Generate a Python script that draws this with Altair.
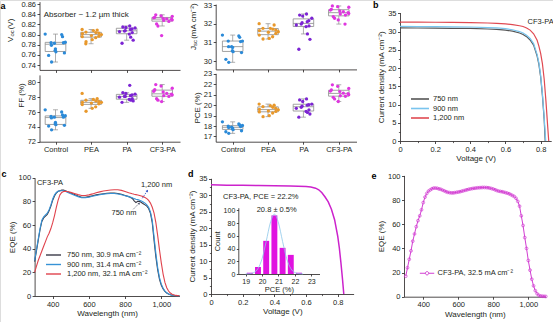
import altair as alt
import pandas as pd

W, H = 553, 322
FONT = "Liberation Sans"
INK = "#231f20"
BOX = "#8c8c8c"

# ---------------- data: panel a ----------------
groups = ["Control", "PEA", "PA", "CF3-PA"]
group_colors = ["#2b8ad8", "#e8982b", "#7c24d3", "#df36df"]

voc_control = [0.801, 0.800, 0.796, 0.785, 0.784, 0.784, 0.783, 0.779, 0.772, 0.769, 0.766, 0.764, 0.759, 0.746]
voc_pea = [0.810, 0.809, 0.808, 0.805, 0.804, 0.803, 0.802, 0.800, 0.798, 0.797, 0.796, 0.794, 0.790, 0.786, 0.782]
voc_pa = [0.817, 0.815, 0.814, 0.813, 0.811, 0.810, 0.808, 0.807, 0.806, 0.804, 0.801, 0.795, 0.789, 0.783]
voc_cf3 = [0.839, 0.837, 0.836, 0.834, 0.833, 0.832, 0.831, 0.830, 0.829, 0.828, 0.826, 0.821, 0.817, 0.798]

jsc_control = [31.39, 31.34, 31.27, 31.07, 31.07, 31.04, 30.77, 30.77, 30.73, 30.55, 30.50, 30.45, 30.09, 29.93]
jsc_pea = [32.00, 31.93, 31.75, 31.75, 31.71, 31.66, 31.63, 31.57, 31.54, 31.48, 31.39, 31.30, 31.21, 31.18]
jsc_pa = [32.52, 32.46, 32.41, 32.29, 32.16, 32.11, 32.05, 31.98, 31.93, 31.88, 31.84, 31.45, 31.16, 30.63]
jsc_cf3 = [32.95, 32.91, 32.88, 32.77, 32.73, 32.68, 32.64, 32.59, 32.55, 32.52, 32.46, 32.38, 32.29, 32.20, 31.98]

ff_control = [76.3, 76.0, 75.6, 75.5, 75.4, 75.3, 75.3, 75.2, 74.6, 74.4, 74.3, 74.2, 74.1, 73.6]
ff_pea = [78.5, 77.8, 77.7, 77.6, 77.5, 77.4, 77.3, 77.3, 77.2, 77.1, 77.0, 76.7, 76.5, 76.1]
ff_pa = [79.6, 78.6, 78.5, 78.4, 78.3, 78.2, 78.1, 78.1, 78.0, 77.8, 77.7, 77.6, 77.5, 77.3]
ff_cf3 = [79.7, 79.5, 79.2, 79.0, 78.8, 78.7, 78.5, 78.4, 78.3, 78.2, 78.1, 77.8, 77.6, 77.4]

pce_control = [18.4, 18.2, 18.1, 18.05, 18.0, 17.95, 17.9, 17.85, 17.8, 17.75, 17.65, 17.55, 17.45, 17.3]
pce_pea = [20.1, 20.0, 19.95, 19.85, 19.8, 19.7, 19.6, 19.55, 19.45, 19.4, 19.35, 19.25, 19.0, 18.9]
pce_pa = [20.6, 20.5, 20.35, 20.1, 20.05, 20.0, 19.9, 19.8, 19.7, 19.55, 19.4, 19.3, 19.15, 18.85]
pce_cf3 = [21.95, 21.8, 21.6, 21.45, 21.35, 21.3, 21.15, 21.1, 21.0, 20.9, 20.85, 20.75, 20.6, 20.35]

# ---------------- data: panel b (J-V, three thicknesses) ----------------
thick_b = ["750 nm", "900 nm", "1,200 nm"]
colors_b = ["#555555", "#79c4ee", "#e04a52"]
v_750 = [0, 0.1, 0.2, 0.3, 0.4, 0.5, 0.55, 0.6, 0.64, 0.68, 0.7, 0.72, 0.74, 0.76, 0.78, 0.79, 0.80, 0.81, 0.82, 0.826]
j_750 = [31.0, 30.98, 30.95, 30.9, 30.85, 30.7, 30.6, 30.4, 30.1, 29.6, 29.2, 28.6, 27.7, 26.3, 23.3, 21.0, 17.6, 12.5, 6.0, 0.0]
v_900 = [0, 0.1, 0.2, 0.3, 0.4, 0.5, 0.55, 0.6, 0.64, 0.68, 0.7, 0.72, 0.74, 0.76, 0.78, 0.79, 0.80, 0.81, 0.82, 0.826, 0.829]
j_900 = [31.4, 31.38, 31.35, 31.3, 31.25, 31.1, 31.0, 30.8, 30.5, 30.0, 29.6, 29.0, 28.1, 26.7, 23.7, 21.4, 18.0, 13.0, 6.5, 2.0, 0.0]
v_1200 = [0, 0.1, 0.2, 0.3, 0.4, 0.5, 0.55, 0.6, 0.64, 0.68, 0.7, 0.72, 0.74, 0.76, 0.78, 0.79, 0.80, 0.81, 0.82, 0.83, 0.84, 0.846]
j_1200 = [32.6, 32.58, 32.55, 32.5, 32.45, 32.35, 32.25, 32.1, 31.9, 31.6, 31.4, 31.0, 30.4, 29.4, 27.6, 26.0, 24.0, 21.2, 17.0, 11.0, 4.0, 0.0]

# ---------------- data: panel c (EQE, three thicknesses) ----------------
labels_c = ["750 nm, 30.9 mA cm\u207b\u00b2", "900 nm, 31.4 mA cm\u207b\u00b2", "1,200 nm, 32.1 mA cm\u207b\u00b2"]
colors_c = ["#3a3a48", "#3792d6", "#e0434d"]
wl_c = [300, 310, 320, 330, 340, 350, 360, 370, 380, 390, 400, 410, 420, 430, 440, 450, 460, 470, 480,
        500, 520, 540, 560, 580, 600, 620, 640, 660, 680, 700, 720, 740, 760, 780, 800, 820, 840,
        850, 860, 870, 880, 890, 900, 910, 920, 930, 940, 950, 960, 970, 980, 990, 1000, 1010, 1020,
        1030, 1040, 1050, 1060, 1080, 1100]
eqe_750 = [29, 38, 47, 56, 63, 66, 67.5, 69, 72, 76, 81, 84.5, 87, 88.5, 89, 89.5, 89.5, 89, 88.3,
           87, 85.8, 84.5, 83.5, 83.5, 84, 84.8, 85.5, 86, 86.5, 86.8, 87, 87, 86.6, 86, 85, 84, 82.5,
           80.5, 79, 80, 80, 79, 78, 77, 76, 74, 70, 62, 47, 33, 22, 14, 9, 6, 4,
           2.5, 1.6, 1.0, 0.6, 0.3, 0.2]
eqe_900 = [30, 39, 48, 57, 64, 67, 68.5, 70, 73, 77, 82, 85.5, 87.5, 88.5, 89, 89, 89, 88.5, 87.8,
           86.5, 85.2, 84, 83, 83, 83.5, 84.3, 85, 85.6, 86.1, 86.4, 86.6, 86.6, 86.2, 85.6, 84.8, 84, 83,
           82.3, 81.8, 81.5, 81, 80.3, 79.5, 78.5, 77, 75, 71, 64, 50, 36, 24, 15.5, 10, 6.5, 4.2,
           2.7, 1.7, 1.1, 0.7, 0.3, 0.2]
eqe_1200 = [20, 25, 30, 34, 38, 42, 46, 50, 53, 57, 62, 68, 75, 81, 85.5, 87.5, 88.3, 88.5, 88.3,
            87.6, 86.7, 85.7, 85, 85, 85.5, 86.3, 87.2, 88, 88.7, 89.2, 89.6, 89.8, 89.8, 89.3, 88.3, 87.3, 86.4,
            86, 85.7, 85.4, 85, 84.5, 84, 83.3, 82.3, 80.8, 78.5, 75, 70, 62, 51, 39, 28, 18.5, 11.5,
            7, 4.2, 2.5, 1.5, 0.5, 0.2]

# ---------------- data: panel d (champion J-V + histogram) ----------------
v_d = [0, 0.1, 0.2, 0.3, 0.4, 0.5, 0.55, 0.6, 0.63, 0.66, 0.68, 0.7, 0.72, 0.74, 0.76, 0.78, 0.8, 0.81, 0.82, 0.83, 0.838]
j_d = [33.2, 33.1, 33.05, 33.0, 32.95, 32.85, 32.8, 32.7, 32.55, 32.2, 31.7, 30.8, 29.5, 28.0, 25.8, 22.6, 17.5, 14.0, 9.5, 4.5, 0.0]
hist_centers = [19.25, 19.75, 20.25, 20.75, 21.25, 21.75, 22.25]
hist_counts = [2, 11, 52, 92, 41, 30, 2]
fit_pce = [19.0, 19.25, 19.5, 19.75, 20.0, 20.25, 20.5, 20.75, 21.0, 21.25, 21.5, 21.75, 22.0, 22.25, 22.5]
fit_count = [0.1, 0.5, 2.3, 8.6, 24, 51, 80, 94, 80, 51, 24, 8.6, 2.3, 0.5, 0.1]

# ---------------- data: panel e (EQE of champion) ----------------
wl_e = list(range(300, 1101, 10))
eqe_e = [17, 24, 31, 38, 46, 52, 58, 63, 67, 72, 78, 82.5, 85.5, 87.5, 88.5, 89.5, 90, 90, 89.8, 89.3,
         89, 88.3, 87.7, 87, 86.5, 86.2, 86, 86, 86.2, 86.5, 86.7, 87, 87.4, 87.8, 88.2, 88.6, 89, 89.3,
         89.6, 89.8, 90, 90.2, 90.3, 90.4, 90.5, 90.5, 90.4, 90.3, 90, 89.6, 89.2, 88.6, 88, 87.5, 87.2,
         87, 86.6, 86.2, 85.8, 85.3, 84.6, 83.8, 83, 81.5, 79, 75, 67, 59, 49, 40, 30, 22, 14.5, 9,
         5, 2.5, 1.2, 0.6, 0.4, 0.3, 0.2]


# ---------------- helpers ----------------
def ax_left(xpos, values, fmt, title, **kw):
    d = dict(orient="left", offset=-xpos, values=values, title=title, grid=False,
             tickSize=2.5, tickWidth=0.8, domainWidth=0.8, labelPadding=1.5, titlePadding=2,
             labelFontSize=7.5, titleFontSize=8, titleFontWeight="normal",
             labelColor=INK, titleColor=INK, domainColor=INK, tickColor=INK,
             labelFont=FONT, titleFont=FONT, labelOverlap=False)
    if fmt:
        d["format"] = fmt
    d.update(kw)
    return alt.Axis(**d)


def ax_bottom(ypos, values, fmt, title, **kw):
    d = dict(orient="bottom", offset=ypos - H, values=values, title=title, grid=False,
             tickSize=2.5, tickWidth=0.8, domainWidth=0.8, labelPadding=1.5, titlePadding=2,
             labelFontSize=7.5, titleFontSize=8, titleFontWeight="normal",
             labelColor=INK, titleColor=INK, domainColor=INK, tickColor=INK,
             labelFont=FONT, titleFont=FONT, labelOverlap=False, labelFlush=False)
    if fmt:
        d["format"] = fmt
    d.update(kw)
    return alt.Axis(**d)


def lin(domain, rng):
    return alt.Scale(domain=list(domain), range=list(rng), nice=False, zero=False)


def minor_ticks(xs, ys, xdom0, ydom0, xaxis_y, yaxis_x, xvals, yvals):
    common = dict(grid=False, labels=False, domain=False, title=None, tickSize=1.6,
                  tickWidth=0.7, tickColor=INK)
    return alt.Chart(pd.DataFrame({"x": [xdom0], "y": [ydom0]})).mark_point(opacity=0).encode(
        x=alt.X("x:Q", scale=xs, axis=alt.Axis(orient="bottom", offset=xaxis_y - H, values=xvals, **common)),
        y=alt.Y("y:Q", scale=ys, axis=alt.Axis(orient="left", offset=-yaxis_x, values=yvals, **common)))


def box_panel(vals, xdom, xrng, ydom, yrng, xaxis_y, yaxis_x, yvalues, yfmt, ytitle, show_labels,
              extra=None, title_y=None):
    rows = [{"grp": g, "gi": gi, "k": k, "v": v}
            for gi, g in enumerate(groups) for k, v in enumerate(vals[gi])]
    df = pd.DataFrame(rows)
    xs = lin(xdom, xrng)
    ys = lin(ydom, yrng)
    xax = ax_bottom(xaxis_y, [0, 1, 2, 3], None, None, labels=show_labels,
                    labelExpr="['Control','PEA','PA','CF3-PA'][datum.value]")
    ykw = {}
    if title_y is not None:
        ykw["titleY"] = title_y
    yax = ax_left(yaxis_x, yvalues, yfmt, ytitle, **ykw)
    base = alt.Chart(df)
    stats = (base.transform_joinaggregate(q1="q1(v)", q3="q3(v)", med="median(v)", groupby=["gi"])
             .transform_calculate(lo="datum.q1 - 1.5*(datum.q3-datum.q1)",
                                  hi="datum.q3 + 1.5*(datum.q3-datum.q1)")
             .transform_filter("datum.v >= datum.lo && datum.v <= datum.hi")
             .transform_aggregate(q1="min(q1)", q3="min(q3)", med="min(med)",
                                  wlo="min(v)", whi="max(v)", groupby=["gi"])
             .transform_calculate(xl="datum.gi - 0.29", xr="datum.gi + 0.29",
                                  cl="datum.gi - 0.07", cr="datum.gi + 0.07"))
    X = lambda f: alt.X(f, scale=xs, axis=xax)
    Y = lambda f: alt.Y(f, scale=ys, axis=yax)
    w_lo = stats.mark_rule(color=BOX, strokeWidth=0.7).encode(x=X("gi:Q"), y=Y("wlo:Q"), y2="q1:Q")
    w_hi = stats.mark_rule(color=BOX, strokeWidth=0.7).encode(x=X("gi:Q"), y=Y("whi:Q"), y2="q3:Q")
    c_lo = stats.mark_rule(color=BOX, strokeWidth=0.7).encode(x=X("cl:Q"), x2="cr:Q", y=Y("wlo:Q"))
    c_hi = stats.mark_rule(color=BOX, strokeWidth=0.7).encode(x=X("cl:Q"), x2="cr:Q", y=Y("whi:Q"))
    box = stats.mark_rect(fill="white", fillOpacity=0, stroke=BOX, strokeWidth=0.8).encode(
        x=X("xl:Q"), x2="xr:Q", y=Y("q1:Q"), y2="q3:Q")
    med = stats.mark_rule(color=BOX, strokeWidth=0.8).encode(x=X("xl:Q"), x2="xr:Q", y=Y("med:Q"))
    pts = (base.transform_calculate(
               jx="datum.gi + ((abs(sin(datum.k * 12.9898 + datum.gi * 4.1)) * 437.585) % 1 - 0.5) * 0.58")
           .mark_point(filled=True, size=11, opacity=1, shape="circle")
           .encode(x=X("jx:Q"), y=Y("v:Q"),
                   color=alt.Color("grp:N", scale=alt.Scale(domain=groups, range=group_colors), legend=None)))
    layers = [w_lo, w_hi, c_lo, c_hi, box, med, pts]
    if extra is not None:
        layers.append(extra(X, Y))
    return alt.layer(*layers)


def absorber_text(X, Y):
    return alt.Chart(pd.DataFrame({"x": [-0.33], "y": [0.8395], "t": ["Absorber ~ 1.2 \u00b5m thick"]})).mark_text(
        align="left", baseline="middle", fontSize=8, font=FONT, color=INK).encode(
        x=X("x:Q"), y=Y("y:Q"), text="t:N")


voc_panel = box_panel([voc_control, voc_pea, voc_pa, voc_cf3], [-0.45, 3.5], [39.5, 180],
                      [0.7305, 0.865], [69.9, 1.6], 69.9, 39.5,
                      [0.74, 0.76, 0.78, 0.80, 0.82, 0.84, 0.86], ".2f", None, False, absorber_text)
ff_panel = box_panel([ff_control, ff_pea, ff_pa, ff_cf3], [-0.45, 3.5], [39.5, 180],
                     [72, 81], [141.7, 74.9], 141.7, 39.5,
                     [72, 74, 76, 78, 80], "d", "FF (%)", True, title_y=95)
jsc_panel = box_panel([jsc_control, jsc_pea, jsc_pa, jsc_cf3], [-0.48, 3.5], [215.7, 356.5],
                      [29.55, 33.05], [69.4, 4.1], 69.4, 215.7,
                      [30, 31, 32, 33], "d", None, False)
pce_panel = box_panel([pce_control, pce_pea, pce_pa, pce_cf3], [-0.48, 3.5], [215.7, 356.5],
                      [16.5, 23.05], [141.7, 73.3], 141.7, 215.7,
                      [17, 18, 19, 20, 21, 22, 23], "d", "PCE (%)", True)


# rotated axis titles with subscripts (Voc, Jsc)
def rot_text(t, px, py, size):
    return alt.Chart(pd.DataFrame({"t": [t]})).mark_text(
        fontSize=size, font=FONT, color=INK, angle=270, align="left", baseline="middle").encode(
        text="t:N", x=alt.value(px), y=alt.value(py))


voc_title = [rot_text("V", 10.5, 42, 8), rot_text("oc", 12.3, 36.6, 6), rot_text("(V)", 10.5, 29.3, 8)]
jsc_title = [rot_text("J", 193.5, 50, 8), rot_text("sc", 195.3, 46, 6),
             rot_text("(mA cm\u207b\u00b2)", 193.5, 38.8, 8)]

# ---------------- panel b ----------------
df_b = pd.concat([
    pd.DataFrame({"V": v_750, "J": j_750, "s": thick_b[0]}),
    pd.DataFrame({"V": v_900, "J": j_900, "s": thick_b[1]}),
    pd.DataFrame({"V": v_1200, "J": j_1200, "s": thick_b[2]}),
])
bx = lin([0, 0.86], [400, 551.2])
by = lin([0, 35.2], [141, 12.6])
bxa = ax_bottom(141, [0, 0.2, 0.4, 0.6, 0.8], "~g", "Voltage (V)")
bya = ax_left(400, [0, 5, 10, 15, 20, 25, 30, 35], "d", "Current density (mA cm\u207b\u00b2)")
b_lines = alt.Chart(df_b).mark_line(strokeWidth=1.2).encode(
    x=alt.X("V:Q", scale=bx, axis=bxa), y=alt.Y("J:Q", scale=by, axis=bya),
    color=alt.Color("s:N", scale=alt.Scale(domain=thick_b, range=colors_b),
                    legend=alt.Legend(title=None, orient="none", legendX=416, legendY=95,
                                      symbolType="M-3,0H3", symbolSize=36, symbolStrokeWidth=1.6,
                                      labelFontSize=7.5, labelFont=FONT, labelColor=INK,
                                      labelOffset=9, rowPadding=1.5, padding=0)))
b_text = alt.Chart(pd.DataFrame({"V": [0.80], "J": [32.7], "t": ["CF3-PA"]})).mark_text(
    fontSize=7.5, font=FONT, color=INK).encode(
    x=alt.X("V:Q", scale=bx, axis=bxa), y=alt.Y("J:Q", scale=by, axis=bya), text="t:N")
b_panel = alt.layer(b_lines, b_text)
b_minor = minor_ticks(bx, by, 0, 0, 141, 400, [0.1, 0.3, 0.5, 0.7],
                      [2.5, 7.5, 12.5, 17.5, 22.5, 27.5, 32.5])

# ---------------- panel c ----------------
df_c = pd.concat([
    pd.DataFrame({"wl": wl_c, "eqe": eqe_750, "s": labels_c[0]}),
    pd.DataFrame({"wl": wl_c, "eqe": eqe_900, "s": labels_c[1]}),
    pd.DataFrame({"wl": wl_c, "eqe": eqe_1200, "s": labels_c[2]}),
])
cx = lin([300, 1100], [34.6, 179.4])
cy = lin([0, 100], [296, 177.7])
cxa = ax_bottom(296, [400, 600, 800, 1000], ",d", "Wavelength (nm)")
cya = ax_left(34.6, [0, 20, 40, 60, 80, 100], "d", "EQE (%)")
CX = lambda f: alt.X(f, scale=cx, axis=cxa)
CY = lambda f: alt.Y(f, scale=cy, axis=cya)
c_lines = alt.Chart(df_c).mark_line(strokeWidth=1.1).encode(
    x=CX("wl:Q"), y=CY("eqe:Q"),
    color=alt.Color("s:N", scale=alt.Scale(domain=labels_c, range=colors_c),
                    legend=alt.Legend(title=None, orient="none", legendX=49.5, legendY=251,
                                      symbolType="M-2.5,0H2.5", symbolSize=36, symbolStrokeWidth=1.4,
                                      labelFontSize=7.5, labelFont=FONT, labelColor=INK,
                                      labelOffset=9.5, rowPadding=1.5, padding=0, labelLimit=200)))
c_txt_l = alt.Chart(pd.DataFrame({"wl": [313], "eqe": [95.3], "t": ["CF3-PA"]})).mark_text(
    fontSize=7.5, font=FONT, color=INK, baseline="middle", align="left").encode(
    x=CX("wl:Q"), y=CY("eqe:Q"), text="t:N")
c_txt_c = alt.Chart(pd.DataFrame({"wl": [974, 794], "eqe": [94.1, 70.4], "t": ["1,200 nm", "750 nm"]})).mark_text(
    fontSize=7.5, font=FONT, color=INK, baseline="middle", align="center").encode(
    x=CX("wl:Q"), y=CY("eqe:Q"), text="t:N")
arrows = pd.DataFrame({"x1": [895, 845], "y1": [82.6, 73.3], "x2": [922.7, 878], "y2": [89.0, 78.4],
                       "col": ["#2d4fc4", "#555a70"], "ang": [33, 45]})
c_arr = alt.Chart(arrows).mark_rule(strokeWidth=0.8, strokeDash=[1.5, 1]).encode(
    x=CX("x1:Q"), y=CY("y1:Q"), x2="x2:Q", y2="y2:Q", color=alt.Color("col:N", scale=None))
c_head = alt.Chart(arrows).mark_point(shape="triangle-up", filled=True, size=7, opacity=1).encode(
    x=CX("x2:Q"), y=CY("y2:Q"), angle=alt.Angle("ang:Q", scale=None), color=alt.Color("col:N", scale=None))
c_panel = alt.layer(c_lines, c_arr, c_head, c_txt_l, c_txt_c)

# ---------------- panel d ----------------
dx = lin([0, 0.9], [211, 353.6])
dy = lin([0, 35.2], [294, 178.3])
dxa = ax_bottom(294, [0, 0.2, 0.4, 0.6, 0.8], "~g", "Voltage (V)")
dya = ax_left(211, [0, 5, 10, 15, 20, 25, 30, 35], "d", "Current density (mA cm\u207b\u00b2)")
d_line = alt.Chart(pd.DataFrame({"V": v_d, "J": j_d})).mark_line(strokeWidth=1.5, color="#cc22cc").encode(
    x=alt.X("V:Q", scale=dx, axis=dxa), y=alt.Y("J:Q", scale=dy, axis=dya))
d_text = alt.Chart(pd.DataFrame({"V": [0.314], "J": [29.4], "t": ["CF3-PA, PCE = 22.2%"]})).mark_text(
    fontSize=7.5, font=FONT, color=INK).encode(
    x=alt.X("V:Q", scale=dx, axis=dxa), y=alt.Y("J:Q", scale=dy, axis=dya), text="t:N")
d_panel = alt.layer(d_line, d_text)
d_minor = minor_ticks(dx, dy, 0, 0, 294, 211, [0.1, 0.3, 0.5, 0.7],
                      [2.5, 7.5, 12.5, 17.5, 22.5, 27.5, 32.5])

ix = lin([18.55, 23.5], [238.3, 319.5])
iy = lin([0, 104], [274, 207.7])
ixa = ax_bottom(274, [19, 20, 21, 22, 23], "d", "PCE (%)", labelFontSize=7, titleFontSize=7.5,
                titlePadding=1, tickSize=2)
iya = ax_left(238.3, [0, 20, 40, 60, 80, 100], "d", "Count", labelFontSize=7, titleFontSize=7.5,
              titlePadding=2, tickSize=2)
IX = lambda f: alt.X(f, scale=ix, axis=ixa)
IY = lambda f: alt.Y(f, scale=iy, axis=iya)
i_bars = (alt.Chart(pd.DataFrame({"c": hist_centers, "n": hist_counts}))
          .transform_calculate(lo="datum.c - 0.18", hi="datum.c + 0.18")
          .mark_rect(color="#e012e0").encode(x=IX("lo:Q"), x2="hi:Q", y=IY("n:Q"), y2=alt.datum(0)))
i_fit = alt.Chart(pd.DataFrame({"p": fit_pce, "n": fit_count})).mark_line(
    color="#8cc6ea", strokeWidth=0.8, interpolate="monotone").encode(x=IX("p:Q"), y=IY("n:Q"))
i_text = alt.Chart(pd.DataFrame({"p": [20.89], "n": [100], "t": ["20.8 \u00b1 0.5%"]})).mark_text(
    fontSize=7.5, font=FONT, color=INK).encode(x=IX("p:Q"), y=IY("n:Q"), text="t:N")
inset_panel = alt.layer(i_bars, i_fit, i_text)

# ---------------- panel e ----------------
ex = lin([290, 1100], [404, 545.8])
ey = lin([0, 100.5], [296.7, 175.4])
exa = ax_bottom(296.7, [400, 600, 800, 1000], ",d", "Wavelength (nm)")
eya = ax_left(404, [0, 20, 40, 60, 80, 100], "d", "EQE (%)")
df_e = pd.DataFrame({"wl": wl_e, "eqe": eqe_e, "s": "CF3-PA, 32.5 mA cm\u207b\u00b2"})
e_line = alt.Chart(df_e).mark_line(strokeWidth=1.0).encode(
    x=alt.X("wl:Q", scale=ex, axis=exa), y=alt.Y("eqe:Q", scale=ey, axis=eya),
    color=alt.Color("s:N", scale=alt.Scale(range=["#d23ed2"]),
                    legend=alt.Legend(title=None, orient="none", legendX=423.3, legendY=269.5,
                                      symbolType="M-2.4,0H-0.55M0.55,0H2.4M0.55,0A0.55,0.55 0 1,1 -0.55,0A0.55,0.55 0 1,1 0.55,0",
                                      symbolSize=36, symbolStrokeWidth=1.0, symbolFillColor="white",
                                      labelFontSize=7.5, labelFont=FONT, labelColor=INK,
                                      labelOffset=6.7, padding=0, labelLimit=200)))
e_pts = alt.Chart(df_e).mark_point(filled=False, size=8, strokeWidth=0.7, color="#d23ed2", opacity=1).encode(
    x=alt.X("wl:Q", scale=ex, axis=exa), y=alt.Y("eqe:Q", scale=ey, axis=eya))
e_panel = alt.layer(e_line, e_pts)


# ---------------- panel letters ----------------
def letter(t, px, py):
    return alt.Chart(pd.DataFrame({"t": [t]})).mark_text(
        fontSize=9, fontWeight="bold", font=FONT, color="#000000", align="left", baseline="middle").encode(
        text="t:N", x=alt.value(px), y=alt.value(py))


letters = [letter("a", 0.5, 6), letter("b", 373, 4.5), letter("c", 1.5, 174),
           letter("d", 188, 173.5), letter("e", 371.5, 176)]

chart = (alt.layer(voc_panel, ff_panel, jsc_panel, pce_panel, b_panel, b_minor, c_panel, d_panel, d_minor,
                   inset_panel, e_panel, *voc_title, *jsc_title, *letters)
         .resolve_scale(x="independent", y="independent", color="independent", angle="independent")
         .resolve_axis(x="independent", y="independent")
         .resolve_legend(color="independent")
         .properties(width=W, height=H, autosize=alt.AutoSizeParams(type="none"), padding=0)
         .configure_view(strokeWidth=0)
         .configure(font=FONT, background="white"))

chart.save("out.html", embed_options={"renderer": "svg", "actions": False})
